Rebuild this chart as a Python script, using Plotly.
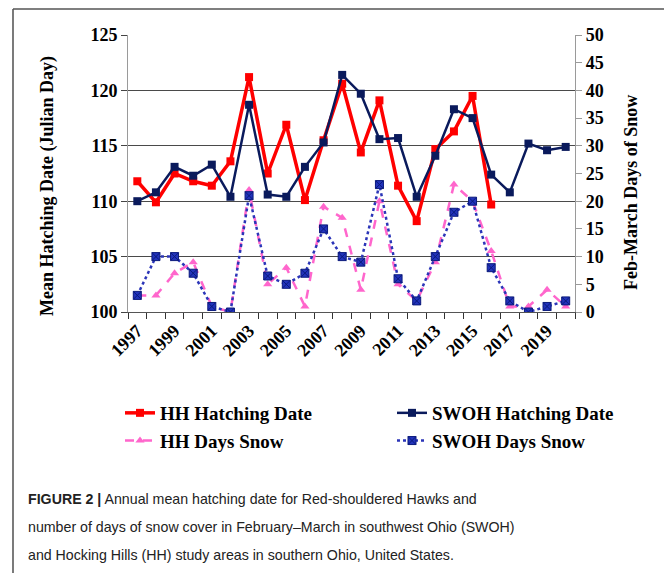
import plotly.graph_objects as go

years = list(range(1997, 2021))
hh_hatch = [111.8, 109.9, 112.5, 111.8, 111.4, 113.6, 121.2, 112.5, 116.9, 110.1, 115.5, 120.6,
            114.4, 119.1, 111.4, 108.2, 114.7, 116.3, 119.5, 109.7, None, None, None, None]
swoh_hatch = [110.0, 110.8, 113.1, 112.3, 113.3, 110.4, 118.7, 110.6, 110.4, 113.1, 115.3, 121.4,
              119.7, 115.6, 115.7, 110.4, 114.1, 118.3, 117.5, 112.4, 110.8, 115.2, 114.6, 114.9]
hh_snow = [3, 3, 7, 9, 1, 0, 22, 5, 8, 1, 19, 17,
           4, 20, 5, 2, 9, 23, 20, 11, 1, 1, 4, 1]
swoh_snow = [3, 10, 10, 7, 1, 0, 21, 6.5, 5, 7, 15, 10,
             9, 23, 6, 2, 10, 18, 20, 8, 2, 0, 1, 2]
year_labels = [str(y) for y in range(1997, 2021, 2)]
left_ticks = [100, 105, 110, 115, 120, 125]

# page body adds an 8px offset; reference pixel positions are compensated for it
OFF = 8
W, H = 672, 573
PLOT_L, PLOT_R, PLOT_T, PLOT_B = 128, 575, 35, 312   # reference pixels
ML, MT = PLOT_L - OFF, PLOT_T - OFF
PW, PH = PLOT_R - PLOT_L, PLOT_B - PLOT_T
MR, MB = W - ML - PW, H - MT - PH


def px(xp):
    return (xp - PLOT_L) / PW


def py(yp):
    return (PLOT_B - yp) / PH


SERIF = "Liberation Serif"
SANS = "Liberation Sans"

fig = go.Figure()
fig.add_trace(go.Scatter(x=years, y=hh_hatch, name="HH Hatching Date", mode="lines+markers",
                         line=dict(color="#FF0000", width=3.5),
                         marker=dict(symbol="square", size=8, color="#FF0000"),
                         connectgaps=False))
fig.add_trace(go.Scatter(x=years, y=swoh_hatch, name="SWOH Hatching Date", mode="lines+markers",
                         line=dict(color="#0A1A5C", width=2.5),
                         marker=dict(symbol="square", size=8, color="#0A1A5C")))
fig.add_trace(go.Scatter(x=years, y=hh_snow, name="HH Days Snow", mode="lines+markers",
                         yaxis="y2",
                         line=dict(color="#FF66CC", width=2.5, dash="dash"),
                         marker=dict(symbol="triangle-up", size=8, color="#FF66CC")))
fig.add_trace(go.Scatter(x=years, y=swoh_snow, name="SWOH Days Snow", mode="lines+markers",
                         yaxis="y2",
                         line=dict(color="#2B35B8", width=2.5, dash="dot"),
                         marker=dict(symbol="square-x", size=8, color="#2233BB",
                                     line=dict(color="#0A1A7C", width=1))))

fig.update_layout(
    width=W, height=H,
    margin=dict(l=ML, r=MR, t=MT, b=MB, autoexpand=False),
    paper_bgcolor="white", plot_bgcolor="white",
    font=dict(family=SERIF, size=18, color="black"),
    showlegend=True,
    legend=dict(orientation="h", x=px(120), xanchor="left", y=py(394), yanchor="top",
                entrywidth=227, entrywidthmode="pixels", tracegroupgap=0,
                font=dict(family=SERIF, size=19, color="black", weight="bold"),
                bgcolor="rgba(0,0,0,0)"),
    xaxis=dict(range=[1996.5, 2020.5], tickmode="array", tickvals=list(range(1997, 2021, 2)),
               ticktext=year_labels, tickangle=-45, ticks="", showgrid=False,
               showline=True, linecolor="#555555", linewidth=1.2, zeroline=False,
               tickfont=dict(family=SERIF, size=18, color="black", weight="bold"),
               minor=dict(ticks="outside", tickmode="linear", tick0=1996.5, dtick=1,
                          ticklen=6, tickcolor="#333333", tickwidth=1, showgrid=False)),
    yaxis=dict(range=[100, 125], tickmode="array", tickvals=left_ticks, ticks="outside",
               ticklen=6, tickcolor="#444444", showgrid=True, gridcolor="#4a4a4a", gridwidth=1.3,
               showline=True, linecolor="#9a9a9a", linewidth=1, zeroline=False,
               tickfont=dict(family=SERIF, size=18, color="black", weight="bold")),
    yaxis2=dict(range=[0, 50], overlaying="y", side="right", dtick=5, ticks="outside",
                ticklen=6, tickcolor="#9a9a9a", showgrid=False, showline=True,
                linecolor="#9a9a9a", linewidth=1.2, zeroline=False,
                tickfont=dict(family=SERIF, size=18, color="black", weight="bold")),
)

annotations = [
    dict(text="<b>Mean Hatching Date (Julian Day)</b>", x=px(47), y=py(186), textangle=-90,
         font=dict(family=SERIF, size=18, color="black")),
    dict(text="<b>Feb-March Days of Snow</b>", x=px(631), y=py(193), textangle=-90,
         font=dict(family=SERIF, size=18, color="black")),
]
for a in annotations:
    a.update(xref="paper", yref="paper", showarrow=False, xanchor="center", yanchor="middle")

caption = [
    "<b>FIGURE 2 |</b> Annual mean hatching date for Red-shouldered Hawks and",
    "number of days of snow cover in February\u2013March in southwest Ohio (SWOH)",
    "and Hocking Hills (HH) study areas in southern Ohio, United States.",
]
for line, yc in zip(caption, [499, 527, 555]):
    annotations.append(dict(text=line, xref="paper", yref="paper", x=px(26), y=py(yc),
                            xanchor="left", yanchor="middle", showarrow=False,
                            font=dict(family=SANS, size=14.2, color="#222222")))
fig.update_layout(annotations=annotations)

shapes = [
    dict(type="line", xref="paper", yref="paper", x0=px(13), x1=px(13), y0=py(9), y1=py(580),
         line=dict(color="#333333", width=1.3)),
    dict(type="line", xref="paper", yref="paper", x0=px(13), x1=px(670), y0=py(9), y1=py(9),
         line=dict(color="#555555", width=1.3)),
    dict(type="line", xref="paper", yref="paper", x0=px(670), x1=px(670), y0=py(9), y1=py(580),
         line=dict(color="#888888", width=1.3)),
]
fig.update_layout(shapes=shapes)

fig.write_html("out.html")
